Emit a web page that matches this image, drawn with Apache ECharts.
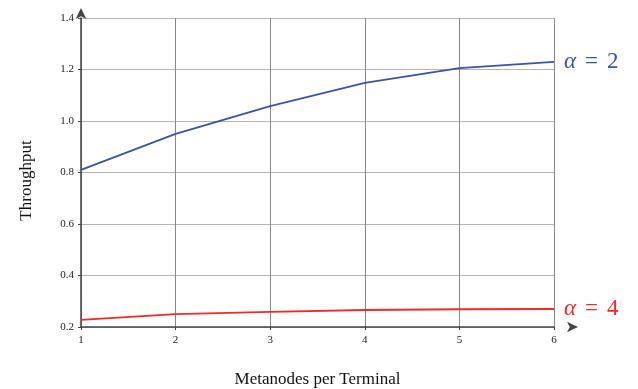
<!DOCTYPE html>
<html><head><meta charset="utf-8">
<script src="https://cdn.jsdelivr.net/npm/echarts@6/dist/echarts.min.js"></script>
<style>html,body{margin:0;padding:0;background:#fff}#c{width:638px;height:389px}</style>
</head><body><div id="c"></div>
<script>
const xValues = [1, 2, 3, 4, 5, 6];
const alpha2 = [0.81, 0.95, 1.058, 1.148, 1.205, 1.230];
const alpha4 = [0.228, 0.250, 0.259, 0.266, 0.269, 0.270];
const yTicks = [0.2, 0.4, 0.6, 0.8, 1.0, 1.2, 1.4];
const blue = '#3a53a4', red = '#ee2a2a';
const serif = '"Liberation Serif","DejaVu Serif",serif';
const chart = echarts.init(document.getElementById('c'));
function lbl(txt, col){
  return {show:true, formatter: '{a|α}{s| }{b|=}{s| }{b|' + txt + '}', color: col, distance: 10,
    rich:{a:{fontFamily:serif, fontStyle:'italic', fontSize:23, color:col},
          s:{fontFamily:serif, fontSize:23, width:9},
          b:{fontFamily:serif, fontSize:23, color:col}}};
}
chart.setOption({
  animation:false,
  grid:{left:81, right:84, top:18, bottom:62, containLabel:false, outerBoundsMode:'none'},
  xAxis:{type:'value', min:1, max:6, interval:1,
    name:'Metanodes per Terminal', nameLocation:'middle', nameGap:44,
    nameTextStyle:{fontFamily:serif, fontSize:17, color:'#111'},
    axisLine:{lineStyle:{color:'#444', width:1.5}, symbol:['none','arrow'], symbolSize:[8,11], symbolOffset:[0,24]},
    axisTick:{show:true, inside:false, length:3, lineStyle:{color:'#444'}},
    axisLabel:{fontFamily:serif, fontSize:11, color:'#222', margin:8},
    splitLine:{show:true, lineStyle:{color:'#888', width:1}}},
  yAxis:{type:'value', min:0.2, max:1.4, interval:0.2,
    name:'Throughput', nameLocation:'middle', nameGap:46,
    nameTextStyle:{fontFamily:serif, fontSize:17, color:'#111', padding:[0,0,0,-16]},
    axisLine:{show:true, lineStyle:{color:'#444', width:1.5}, symbol:['none','arrow'], symbolSize:[8,11], symbolOffset:[0,10]},
    axisTick:{show:true, length:3, lineStyle:{color:'#444'}},
    axisLabel:{fontFamily:serif, fontSize:11, color:'#222', margin:7,
      formatter:v=>v.toFixed(1)},
    splitLine:{show:true, lineStyle:{color:'#b4b4b4', width:1}}},
  series:[
    {name:'alpha2', type:'line', data:xValues.map((x,i)=>[x,alpha2[i]]), symbol:'none',
      lineStyle:{color:blue, width:1.8}, endLabel:lbl('2', blue)},
    {name:'alpha4', type:'line', data:xValues.map((x,i)=>[x,alpha4[i]]), symbol:'none',
      lineStyle:{color:red, width:1.8}, endLabel:lbl('4', red)}
  ]
});
</script></body></html>
